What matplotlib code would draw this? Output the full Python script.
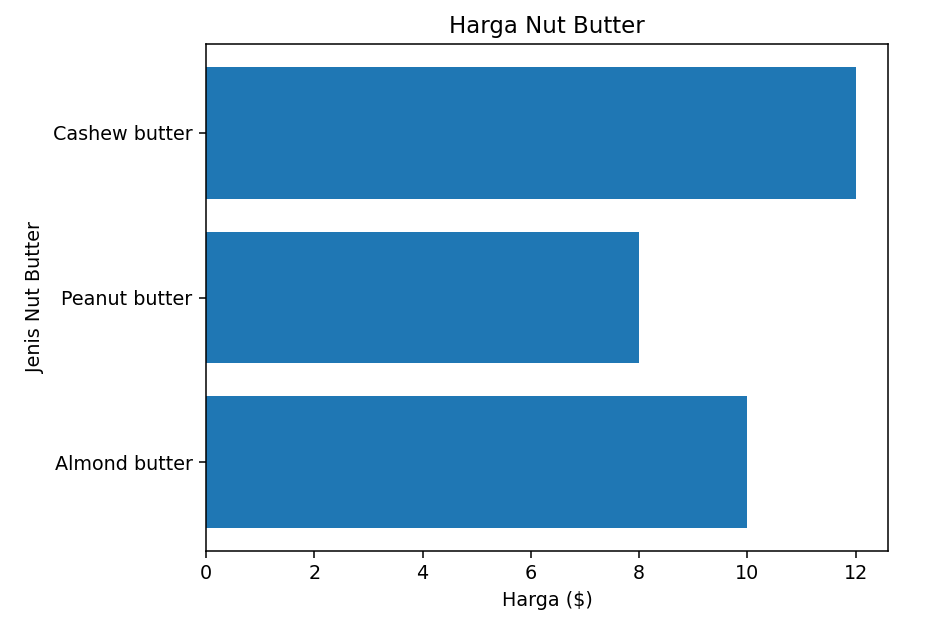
import matplotlib
matplotlib.use("Agg")
import matplotlib.pyplot as plt

jenis = ['Almond butter', 'Peanut butter', 'Cashew butter']
harga = [10, 8, 12]

fig = plt.figure(figsize=(925 / 137.5, 629 / 137.5), dpi=137.5)
ax = fig.add_axes([0.2227, 0.124, 0.7373, 0.806])
ax.barh(jenis, harga)
ax.set_xlabel('Harga ($)')
ax.set_ylabel('Jenis Nut Butter')
ax.set_title('Harga Nut Butter')

fig.savefig('out.png', dpi=137.5)
